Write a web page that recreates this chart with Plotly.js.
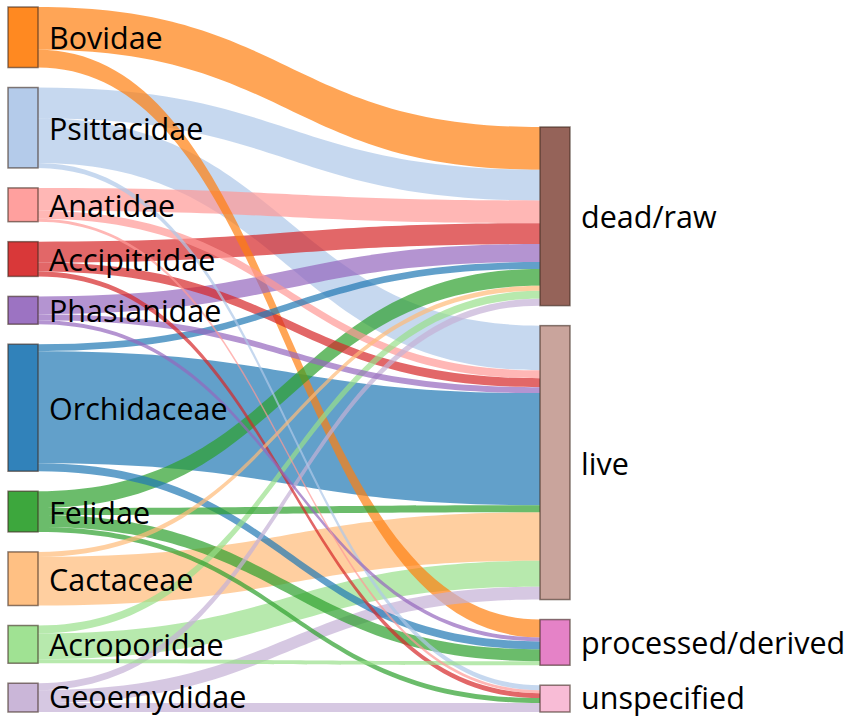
<!DOCTYPE html>
<html>
<head>
<meta charset="utf-8">
<script src="https://cdn.plot.ly/plotly-3.0.1.min.js"></script>
<style>html,body{margin:0;padding:0;background:#fff;}#chart{width:850px;height:718px;}</style>
</head>
<body>
<div id="chart"></div>
<script>
// Source families (left column)
const families = ["Bovidae","Psittacidae","Anatidae","Accipitridae","Phasianidae","Orchidaceae","Felidae","Cactaceae","Acroporidae","Geoemydidae"];
// Trade terms (right column)
const terms = ["dead/raw","live","processed/derived","unspecified"];
// Flow values from each family to each term (same order as families)
const deadRaw     = [43, 31, 23, 21, 18,   7, 17,  5,  8,  7];
const live        = [ 0, 45,  8,  9,  6, 113,  7, 49, 26, 13];
const processed   = [18,  0,  0,  0,  4,   8, 12,  0,  4,  0];
const unspecified = [ 0,  5,  3,  5,  0,   0,  5,  0,  0,  9];

const familyColors = ["#ff7f0e","#aec7e8","#ff9896","#d62728","#9467bd","#1f77b4","#2ca02c","#ffbb78","#98df8a","#c5b0d5"];
const termColors = ["#8c564b","#c49c94","#e377c2","#f7b6d2"];

function rgba(hex, a){
  const n = parseInt(hex.slice(1),16);
  return `rgba(${(n>>16)&255},${(n>>8)&255},${n&255},${a})`;
}

const flows = [deadRaw, live, processed, unspecified];
const linkList = [];
for (let i = 0; i < families.length; i++) {
  for (let t = 0; t < terms.length; t++) {
    const v = flows[t][i];
    if (v > 0) linkList.push({s: i, t: families.length + t, v: v, c: rgba(familyColors[i], 0.7)});
  }
}
// draw wide flows first so thin flows stay visible on top
linkList.sort((a, b) => b.v - a.v);
const src = linkList.map(l => l.s), tgt = linkList.map(l => l.t);
const val = linkList.map(l => l.v), lcol = linkList.map(l => l.c);

// Node placement (layout, derived from data totals)
const ML = 8, MT = 7, MB = 6;
const H = 718 - MT - MB, W = 850 - ML, pad = 20, thick = 30;
const leftTotals = families.map((_, i) => flows.reduce((s, f) => s + f[i], 0));
const rightTotals = flows.map(f => f.reduce((s, v) => s + v, 0));
const sumLeft = leftTotals.reduce((a, b) => a + b, 0);
const ky = (H - (families.length - 1) * pad) / sumLeft;
const xs = [], ys = [];
let y = 0;
leftTotals.forEach(v => { const h = v * ky; xs.push(15 / W); ys.push((y + h / 2) / H); y += h + pad; });
const rightHeight = rightTotals.reduce((a, b) => a + b, 0) * ky + (terms.length - 1) * pad;
y = H - rightHeight;
rightTotals.forEach(v => { const h = v * ky; xs.push(547 / W); ys.push((y + h / 2) / H); y += h + pad; });

const nodeColors = familyColors.concat(termColors).map(c => rgba(c, 0.92));
const allLabels = families.concat(terms);

const data = [{
  type: "sankey",
  arrangement: "fixed",
  domain: {x: [0, 1], y: [0, 1]},
  node: {
    label: allLabels.map(() => ""),
    color: nodeColors,
    x: xs, y: ys,
    pad: pad,
    thickness: thick,
    line: {color: "rgba(60,40,30,0.6)", width: 1.5},
    hoverinfo: "none"
  },
  link: {source: src, target: tgt, value: val, color: lcol, hoverinfo: "none"}
}];

const labelFont = {family: "'Open Sans', sans-serif", size: 30.5, color: "#000"};
const annotations = allLabels.map((lab, i) => ({
  xref: "paper", yref: "paper",
  x: i < families.length ? 39 / W : 571 / W,
  y: 1 - ys[i],
  yshift: (i === families.length - 1 || i === allLabels.length - 1) ? 2 : 0,
  xanchor: "left", yanchor: "middle",
  text: lab, showarrow: false,
  font: labelFont
}));

const layout = {
  width: 850, height: 718,
  margin: {l: ML, r: 0, t: MT, b: MB},
  paper_bgcolor: "#fff",
  font: {family: "'Open Sans', sans-serif"},
  annotations: annotations
};

Plotly.newPlot("chart", data, layout, {displayModeBar: false, staticPlot: true});
</script>
</body>
</html>
